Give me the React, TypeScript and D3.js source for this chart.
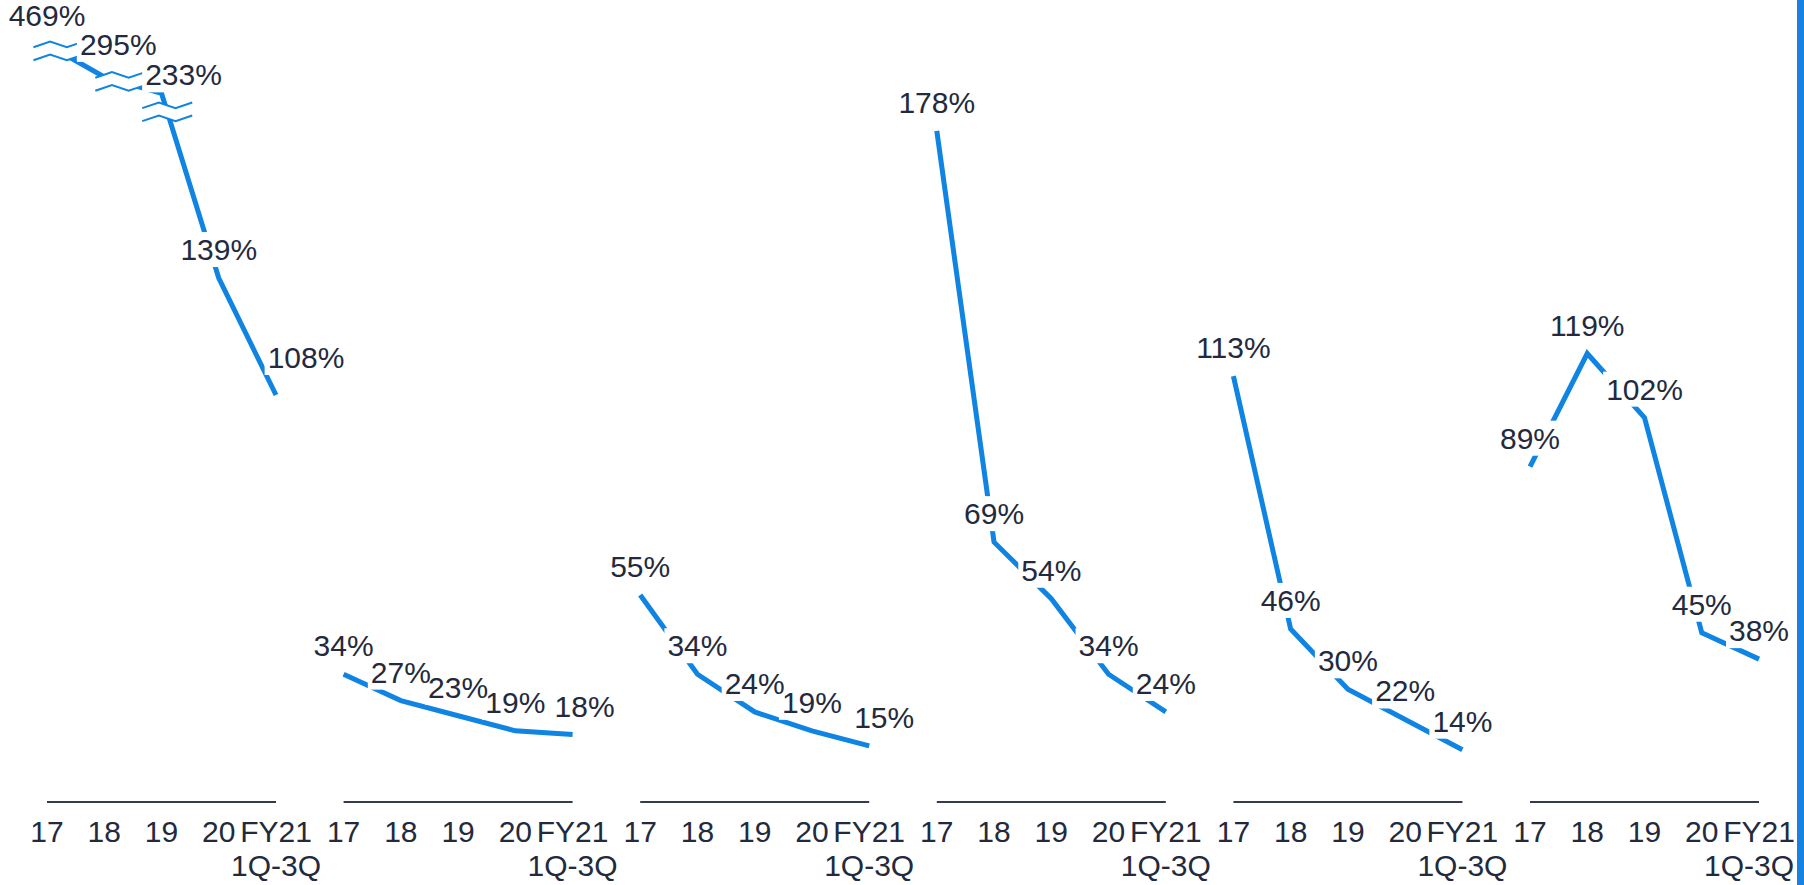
import React, { useEffect, useRef } from "react";
import * as d3 from "d3";

// Fiscal-year categories shared by every panel
const categories = ["17", "18", "19", "20", "FY21"];
const lastCategoryNote = "1Q-3Q";

// Ratio (%) per panel, one value per category
const panelA = [469, 295, 233, 139, 108];
const panelB = [34, 27, 23, 19, 18];
const panelC = [55, 34, 24, 19, 15];
const panelD = [178, 69, 54, 34, 24];
const panelE = [113, 46, 30, 22, 14];
const panelF = [89, 119, 102, 45, 38];

const series = [panelA, panelB, panelC, panelD, panelE, panelF];

// ---- layout ----
const W = 1804;
const H = 885;
const FIRST_X = 47;
const PANEL_STEP = 296.6;
const PANEL_W = 229;
const ZERO_Y = 802.5;
const BREAK_FROM = 200; // values at or above this are drawn on the compressed band
const LINE_BLUE = "#0f84e2";
const TEXT = "#232a3d";
const FONT = "'Liberation Sans', Arial, Helvetica, sans-serif";

// label nudges so neighbouring labels don't collide: key = panel-index
const labelNudge: Record<string, { dx: number; dy: number }> = {
  "0-1": { dx: 14, dy: -4 },
  "0-2": { dx: 22, dy: 10 },
  "0-4": { dx: 30, dy: -9 },
  "1-4": { dx: 12, dy: 0 },
  "2-4": { dx: 15, dy: 0 },
};
// the last panel's period note is pulled in from the right edge
const noteNudge = [0, 0, 0, 0, 0, -10];

// axis-break marks on the first panel: segment start index and position along it
const breaks: { seg: number; t: number }[] = [
  { seg: 0, t: 0.2 },
  { seg: 1, t: 0.28 },
  { seg: 2, t: 0.1 },
];

export default function App() {
  const ref = useRef<SVGSVGElement>(null);

  useEffect(() => {
    const svg = d3.select(ref.current);
    svg.selectAll("*").remove();

    svg.append("rect").attr("width", W).attr("height", H).attr("fill", "#fff");

    const y = d3.scaleLinear().domain([0, 100]).range([ZERO_Y, ZERO_Y - 377.3]);
    const yBroken = d3.scaleLog().domain([200, 500]).range([104, 40]);
    const yOf = (v: number) => (v >= BREAK_FROM ? yBroken(v) : y(v));

    const panelX = d3
      .scaleLinear()
      .domain([0, 1])
      .range([FIRST_X, FIRST_X + PANEL_STEP]);

    series.forEach((vals, p) => {
      const x0 = panelX(p);
      const x = d3.scalePoint<string>().domain(categories).range([x0, x0 + PANEL_W]);
      const g = svg.append("g");

      // baseline
      g.append("line")
        .attr("x1", x0)
        .attr("x2", x0 + PANEL_W)
        .attr("y1", ZERO_Y - 0.5)
        .attr("y2", ZERO_Y - 0.5)
        .attr("stroke", "#343b4d")
        .attr("stroke-width", 2);

      // category ticks
      categories.forEach((c) => {
        g.append("text")
          .attr("x", x(c)!)
          .attr("y", 842)
          .attr("text-anchor", "middle")
          .attr("font-family", FONT)
          .attr("font-size", 30)
          .attr("fill", TEXT)
          .text(c);
      });
      g.append("text")
        .attr("x", x(categories[categories.length - 1])! + noteNudge[p])
        .attr("y", 876)
        .attr("text-anchor", "middle")
        .attr("font-family", FONT)
        .attr("font-size", 30)
        .attr("fill", TEXT)
        .text(lastCategoryNote);

      const pts: [number, number][] = vals.map((v, i) => [x(categories[i])!, yOf(v)]);

      const line = d3.line<[number, number]>();
      g.append("path")
        .attr("d", line(pts))
        .attr("fill", "none")
        .attr("stroke", LINE_BLUE)
        .attr("stroke-width", 5)
        .attr("stroke-linejoin", "miter")
        .attr("stroke-linecap", "butt");

      // break marks where the line leaves the regular scale
      if (vals.some((v) => v >= BREAK_FROM)) {
        breaks.forEach(({ seg, t }) => {
          const [ax, ay] = pts[seg];
          const [bx, by] = pts[seg + 1];
          const cx = ax + (bx - ax) * t;
          const cy = ay + (by - ay) * t;
          const half = 25;
          const amp = 2.8;
          const gap = 6.5;
          const zig = (off: number) =>
            [-half, -half / 3, half / 3, half].map(
              (dx, k) => [cx + dx, cy + off + (k % 2 === 0 ? amp : -amp)] as [number, number]
            );
          const top = zig(-gap);
          const bot = zig(gap);
          g.append("path")
            .attr("d", d3.line()([...top, ...bot.slice().reverse()]) + "Z")
            .attr("fill", "#fff")
            .attr("stroke", "none");
          [top, bot].forEach((zz) =>
            g
              .append("path")
              .attr("d", d3.line()(zz))
              .attr("fill", "none")
              .attr("stroke", LINE_BLUE)
              .attr("stroke-width", 2)
          );
        });
      }

      // value labels on white knock-out boxes
      const boxes = g.append("g");
      const labels = g.append("g");
      vals.forEach((v, i) => {
        const n = labelNudge[`${p}-${i}`] || { dx: 0, dy: 0 };
        const [px, py] = pts[i];
        const tx = labels
          .append("text")
          .attr("x", px + n.dx)
          .attr("y", py - 18 + n.dy)
          .attr("text-anchor", "middle")
          .attr("font-family", FONT)
          .attr("font-size", 30)
          .attr("fill", TEXT)
          .text(`${v}%`);
        const bb = (tx.node() as SVGTextElement).getBBox();
        boxes
          .append("rect")
          .attr("x", bb.x - 3)
          .attr("y", bb.y - 1)
          .attr("width", bb.width + 6)
          .attr("height", bb.height + 2)
          .attr("fill", "#fff");
      });
    });

    // accent bar on the right edge
    svg.append("rect").attr("x", 1797).attr("y", 0).attr("width", 7).attr("height", H).attr("fill", "#1683e3");
  }, []);

  return (
    <svg
      ref={ref}
      width={W}
      height={H}
      style={{ position: "absolute", left: 0, top: 0, display: "block" }}
    />
  );
}
